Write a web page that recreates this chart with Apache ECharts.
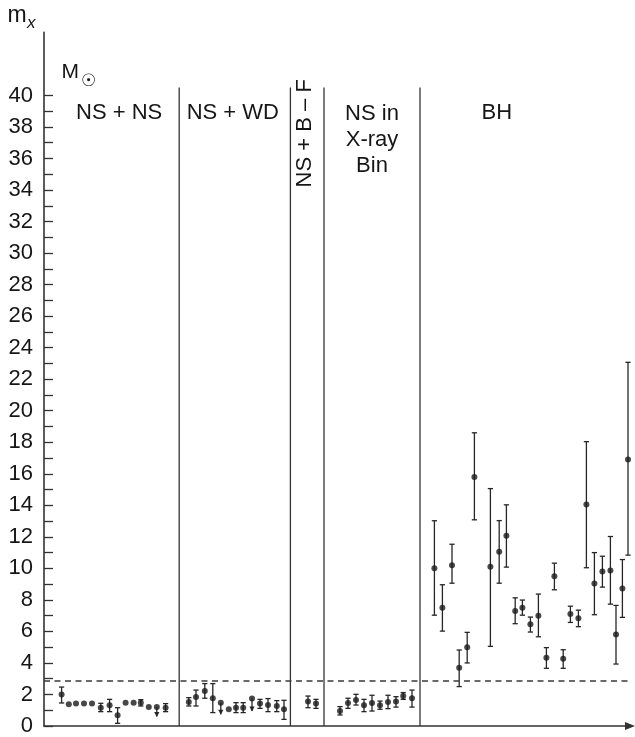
<!DOCTYPE html>
<html>
<head>
<meta charset="utf-8">
<script src="https://cdn.jsdelivr.net/npm/echarts@6/dist/echarts.min.js"></script>
<style>
  html, body { margin: 0; padding: 0; background: #fff; }
  #chart { width: 635px; height: 737px; }
</style>
</head>
<body>
<div id="chart"></div>
<script>
// Masses of compact objects (solar masses) by system type.
// x = slot along the horizontal axis, m = mass, lo/hi = error-bar ends
// (null = no bar drawn), lim = 1 marks an upper limit (arrow downwards).

const groupNames = ['NS + NS', 'NS + WD', 'NS + B – F', 'NS in\nX-ray\nBin', 'BH'];
const dividerX = [16.9, 30.8, 35.0, 47.0];
const thresholdMass = 2.9;

const yTickValues = [0,1,2,3,4,5,6,7,8,9,10,11,12,13,14,15,16,17,18,19,20,
                     21,22,23,24,25,26,27,28,29,30,31,32,33,34,35,36,37,38,39,40];
const yLabelValues = [0,2,4,6,8,10,12,14,16,18,20,22,24,26,28,30,32,34,36,38,40];

// NS + NS
const nsnsX  = [2.2, 3.1, 4.0, 5.0, 6.0, 7.1, 8.2, 9.2, 10.2, 11.2, 12.1, 13.1, 14.1, 15.2];
const nsnsM  = [2.0, 1.38, 1.42, 1.42, 1.42, 1.16, 1.31, 0.68, 1.48, 1.48, 1.48, 1.21, 1.21, 1.16];
const nsnsLo = [1.46, null, null, null, null, 0.91, 0.91, 0.17, null, null, 1.27, null, 0.60, 0.91];
const nsnsHi = [2.47, null, null, null, null, 1.44, 1.69, 1.16, null, null, 1.67, null, 1.21, 1.42];
const nsnsLim = [0,0,0,0,0,0,0,0,0,0,0,0,1,0];

// NS + WD
const nswdX  = [18.1, 19.0, 20.1, 21.1, 22.1, 23.1, 24.0, 24.9, 26.0, 27.0, 28.0, 29.1, 30.0];
const nswdM  = [1.52, 1.84, 2.22, 1.76, 1.48, 1.06, 1.16, 1.16, 1.74, 1.42, 1.33, 1.27, 1.06];
const nswdLo = [1.27, 1.27, 1.76, 0.85, 0.74, null, 0.85, 0.85, 0.95, 1.12, 0.91, 0.91, 0.42];
const nswdHi = [1.80, 2.28, 2.69, 2.69, 1.48, null, 1.48, 1.48, 1.74, 1.69, 1.74, 1.61, 1.63];
const nswdLim = [0,0,0,0,1,0,0,0,1,0,0,0,0];

// NS + B – F
const nsbfX  = [33.0, 34.0];
const nsbfM  = [1.55, 1.42];
const nsbfLo = [1.16, 1.12];
const nsbfHi = [1.90, 1.69];
const nsbfLim = [0, 0];

// NS in X-ray binaries
const xrbX  = [37.0, 38.0, 39.0, 40.0, 41.0, 42.0, 43.0, 44.0, 44.9, 46.0];
const xrbM  = [0.95, 1.46, 1.65, 1.31, 1.46, 1.31, 1.52, 1.55, 1.90, 1.76];
const xrbLo = [0.70, 1.12, 1.33, 0.91, 0.95, 1.06, 1.10, 1.20, 1.69, 1.20];
const xrbHi = [1.23, 1.76, 2.01, 1.69, 1.95, 1.58, 1.95, 1.86, 2.12, 2.28];
const xrbLim = [0,0,0,0,0,0,0,0,0,0];

// BH
const bhX  = [48.8, 49.8, 51.0, 51.9, 52.9, 53.8, 55.8, 56.9, 57.8, 58.9, 59.8, 60.8, 61.8,
              62.8, 63.8, 64.9, 65.8, 66.8, 67.8, 68.8, 69.8, 70.8, 71.5, 72.3, 73.0];
const bhM  = [10.0, 7.5, 10.2, 3.7, 5.0, 15.8, 10.1, 11.05, 12.07, 7.3, 7.5, 6.45, 7.0,
              4.33, 9.5, 4.27, 7.1, 6.83, 14.05, 9.04, 9.8, 9.87, 5.8, 8.73, 16.9];
const bhLo = [7.03, 6.02, 9.06, 2.5, 4.0, 13.08, 5.05, 9.06, 10.08, 6.49, 7.03, 5.96, 5.66,
              3.66, 8.64, 3.66, 6.57, 6.3, 10.04, 7.06, 8.81, 7.73, 3.93, 6.89, 10.84];
const bhHi = [13.02, 8.96, 11.53, 4.82, 5.94, 18.6, 15.06, 13.03, 14.03, 8.13, 7.99, 6.91, 8.37,
              4.97, 10.33, 4.84, 7.6, 7.35, 18.04, 11.0, 10.77, 12.02, 7.65, 10.56, 23.07];
const bhLim = new Array(bhX.length).fill(0);

// ---- assemble series data ----
const groups = [
  [nsnsX, nsnsM, nsnsLo, nsnsHi, nsnsLim],
  [nswdX, nswdM, nswdLo, nswdHi, nswdLim],
  [nsbfX, nsbfM, nsbfLo, nsbfHi, nsbfLim],
  [xrbX, xrbM, xrbLo, xrbHi, xrbLim],
  [bhX, bhM, bhLo, bhHi, bhLim]
];
const pointData = [];
const barData = [];
groups.forEach(([xs, ms, los, his, lims]) => {
  xs.forEach((x, i) => {
    pointData.push([x, ms[i]]);
    if (los[i] != null && his[i] != null) barData.push([x, los[i], his[i], lims[i]]);
  });
});

// where each group title sits, in axis units
const titleAnchor = [[9.4, 38.9], [23.6, 38.9], [32.6, 37.6], [41.0, 37.2], [56.6, 38.9]];
const titleData = titleAnchor.map((p, i) => [p[0], p[1], i]);

const FONT = '"Liberation Sans", Arial, Helvetica, sans-serif';
const INK = '#161616';
const LINE = '#333';

const chart = echarts.init(document.getElementById('chart'), null, { renderer: 'canvas' });

chart.setOption({
  animation: false,
  backgroundColor: '#fff',
  grid: { left: 44, right: 5, top: 32.4, bottom: 10.3 },
  xAxis: {
    type: 'value', min: 0, max: 73.25,
    axisLine: { show: true, onZero: false, symbol: ['none', 'triangle'], symbolSize: [8, 10],
                lineStyle: { color: LINE, width: 1.6 } },
    axisTick: { show: false }, axisLabel: { show: false }, splitLine: { show: false }
  },
  yAxis: {
    type: 'value', min: 0, max: 44,
    axisLine: { show: true, onZero: false, lineStyle: { color: LINE, width: 1.6 } },
    axisTick: { show: true, inside: true, length: 9, customValues: yTickValues,
                lineStyle: { color: LINE, width: 1.3 } },
    axisLabel: { customValues: yLabelValues, margin: 11, fontSize: 22,
                 fontFamily: FONT, color: INK },
    splitLine: { show: false }
  },
  graphic: [
    { type: 'text', x: 7.5, y: 16, style: { text: 'm', fontSize: 23, fontFamily: FONT, fill: INK, verticalAlign: 'middle' } },
    { type: 'text', x: 27, y: 23, style: { text: 'x', fontSize: 17, fontStyle: 'italic', fontFamily: FONT, fill: INK, verticalAlign: 'middle' } },
    { type: 'text', x: 61.5, y: 72.5, style: { text: 'M', fontSize: 21, fontFamily: FONT, fill: INK, verticalAlign: 'middle' } },
    { type: 'text', x: 88.5, y: 82, style: { text: '☉', fontSize: 17, fontFamily: '"DejaVu Sans", sans-serif', fill: INK, align: 'center', verticalAlign: 'middle' } }
  ],
  series: [
    {
      // vertical separators between groups
      type: 'custom', silent: true, z: 1,
      data: dividerX.map(x => [x]),
      renderItem: (params, api) => {
        const a = api.coord([api.value(0), 0]);
        const b = api.coord([api.value(0), 40.5]);
        return { type: 'line', shape: { x1: a[0], y1: a[1], x2: b[0], y2: b[1] },
                 style: { stroke: LINE, lineWidth: 1.3 } };
      }
    },
    {
      // error bars and upper-limit arrows
      type: 'custom', silent: true, z: 3,
      data: barData,
      renderItem: (params, api) => {
        const x = api.value(0);
        const bot = api.coord([x, api.value(1)]);
        const top = api.coord([x, api.value(2)]);
        const lim = api.value(3);
        const st = { stroke: '#262626', lineWidth: 1.3 };
        const kids = [{ type: 'line', shape: { x1: top[0], y1: top[1], x2: bot[0], y2: bot[1] }, style: st }];
        if (lim) {
          kids.push({ type: 'polygon',
            shape: { points: [[bot[0] - 2.6, bot[1] - 4.5], [bot[0] + 2.6, bot[1] - 4.5], [bot[0], bot[1] + 0.5]] },
            style: { fill: '#262626' } });
        } else {
          kids.push({ type: 'line', shape: { x1: top[0] - 2.6, y1: top[1], x2: top[0] + 2.6, y2: top[1] }, style: st });
          kids.push({ type: 'line', shape: { x1: bot[0] - 2.6, y1: bot[1], x2: bot[0] + 2.6, y2: bot[1] }, style: st });
        }
        return { type: 'group', children: kids };
      }
    },
    {
      type: 'scatter', z: 4, silent: true,
      symbol: 'circle', symbolSize: 6,
      itemStyle: { color: '#1a1a1a' },
      data: pointData,
      markLine: {
        silent: true, symbol: 'none', label: { show: false },
        lineStyle: { type: [6, 4.5], color: '#3a3a3a', width: 1.7 },
        data: [{ yAxis: thresholdMass }]
      }
    },
    {
      // group titles
      type: 'custom', silent: true, z: 5,
      data: titleData,
      renderItem: (params, api) => {
        const p = api.coord([api.value(0), api.value(1)]);
        const i = api.value(2);
        return { type: 'text', x: p[0], y: p[1], rotation: i === 2 ? Math.PI / 2 : 0,
          style: { text: groupNames[i], fontSize: 22, fontFamily: FONT, fill: INK,
                   align: 'center', verticalAlign: 'middle', lineHeight: 26 } };
      }
    }
  ]
});
</script>
</body>
</html>
